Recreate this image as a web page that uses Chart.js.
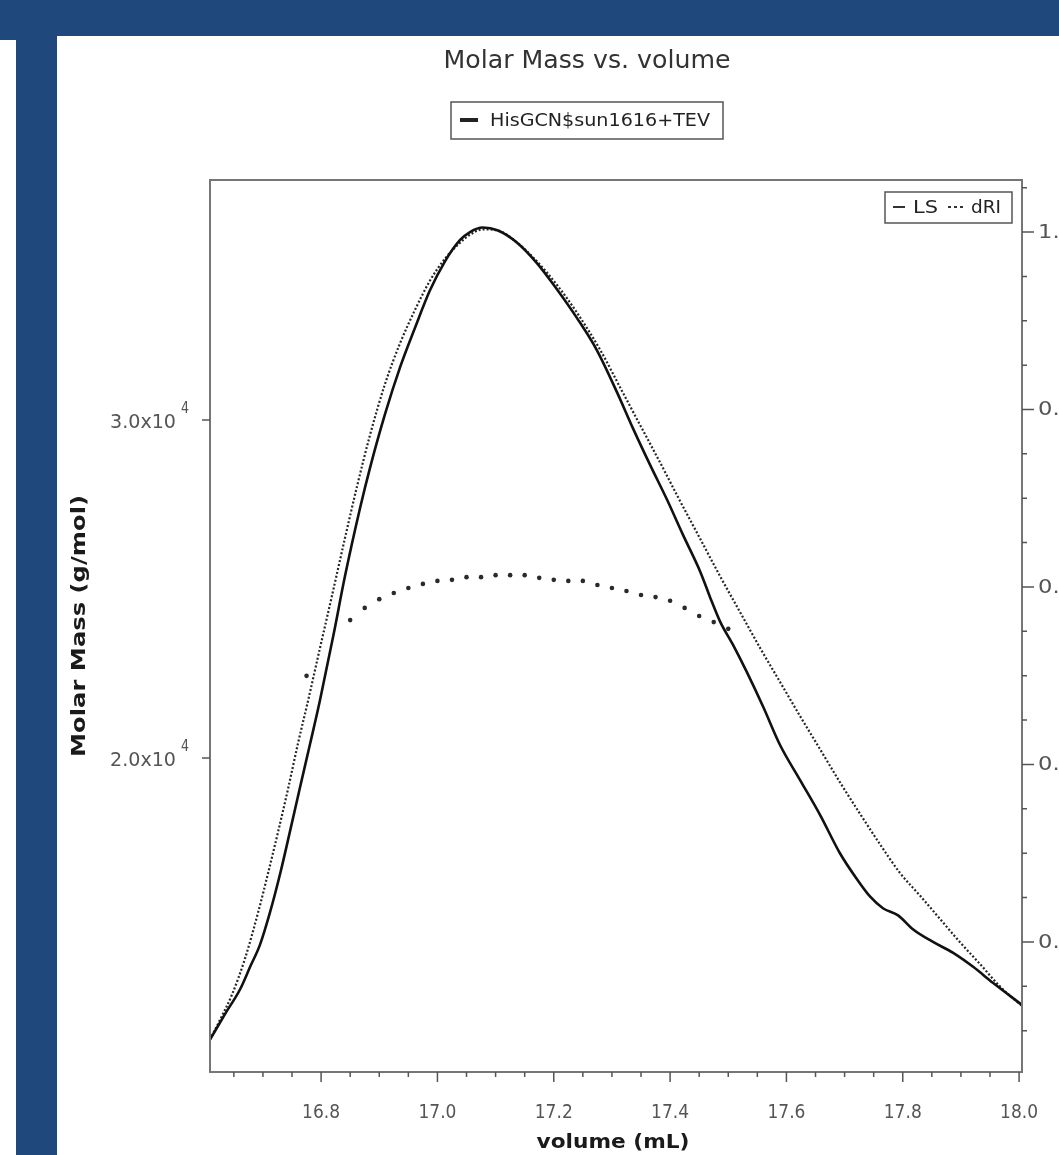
<!DOCTYPE html>
<html>
<head>
<meta charset="utf-8">
<title>Molar Mass vs. volume</title>
<script src="https://cdn.jsdelivr.net/npm/chart.js@4.4.1/dist/chart.umd.min.js"></script>
<style>
  html, body { margin: 0; padding: 0; width: 1059px; height: 1155px; overflow: hidden; background: #fff; }
  .band { position: absolute; background: #1F497D; }
  #chart { position: absolute; left: 57px; top: 36px; }
</style>
</head>
<body>
<div class="band" style="left:0;top:0;width:1059px;height:36px"></div>
<div class="band" style="left:0;top:0;width:16px;height:40px"></div>
<div class="band" style="left:16px;top:0;width:41px;height:1155px"></div>
<canvas id="chart" width="1063" height="1119"></canvas>
<script>
// LS 信号 (右轴, 归一化)
const lsVolume = [16.609, 16.635, 16.661, 16.678, 16.695, 16.712, 16.730, 16.747, 16.764, 16.781,
  16.798, 16.821, 16.841, 16.867, 16.884, 16.910, 16.936, 16.962, 16.987, 17.013,
  17.039, 17.056, 17.078, 17.103, 17.137, 17.171, 17.206, 17.240, 17.274, 17.309,
  17.336, 17.366, 17.395, 17.422, 17.452, 17.469, 17.486, 17.508, 17.532, 17.560,
  17.589, 17.623, 17.658, 17.692, 17.721, 17.744, 17.766, 17.792, 17.818, 17.852,
  17.886, 17.921, 17.955, 18.005];
const lsSignal = [0.090, 0.119, 0.147, 0.172, 0.197, 0.233, 0.278, 0.326, 0.375, 0.423,
  0.472, 0.545, 0.612, 0.689, 0.734, 0.795, 0.848, 0.893, 0.934, 0.967,
  0.991, 1.000, 1.005, 1.002, 0.988, 0.965, 0.935, 0.903, 0.867, 0.819,
  0.779, 0.737, 0.698, 0.659, 0.617, 0.588, 0.561, 0.535, 0.504, 0.465,
  0.422, 0.383, 0.343, 0.300, 0.271, 0.251, 0.238, 0.230, 0.214, 0.200,
  0.188, 0.172, 0.154, 0.129];

// dRI 信号 (右轴)
const riVolume = [16.609, 16.626, 16.647, 16.669, 16.692, 16.709, 16.726, 16.743, 16.760, 16.778,
  16.798, 16.819, 16.841, 16.862, 16.884, 16.910, 16.936, 16.962, 16.987, 17.013,
  17.039, 17.056, 17.078, 17.103, 17.137, 17.171, 17.206, 17.240, 17.280, 17.314,
  17.348, 17.383, 17.417, 17.452, 17.486, 17.520, 17.555, 17.589, 17.623, 17.658,
  17.692, 17.727, 17.761, 17.795, 17.830, 17.864, 17.898, 17.933, 17.967, 18.005];
const riSignal = [0.090, 0.112, 0.141, 0.181, 0.234, 0.278, 0.324, 0.372, 0.423, 0.473,
  0.531, 0.591, 0.655, 0.714, 0.771, 0.829, 0.875, 0.913, 0.945, 0.970,
  0.988, 0.997, 1.003, 1.002, 0.988, 0.967, 0.940, 0.909, 0.867, 0.825,
  0.783, 0.740, 0.697, 0.654, 0.612, 0.572, 0.531, 0.493, 0.455, 0.417,
  0.380, 0.344, 0.310, 0.278, 0.252, 0.226, 0.200, 0.175, 0.150, 0.128];

// 摩尔质量 (左轴, g/mol)
const mmVolume = [16.775, 16.850, 16.875, 16.900, 16.925, 16.950, 16.975, 17.000, 17.025, 17.050,
  17.075, 17.100, 17.125, 17.150, 17.175, 17.200, 17.225, 17.250, 17.275, 17.300,
  17.325, 17.350, 17.375, 17.400, 17.425, 17.450, 17.475, 17.500];
const mmValue = [22430, 24080, 24440, 24700, 24880, 25030, 25150, 25240, 25270, 25350,
  25350, 25410, 25410, 25410, 25330, 25270, 25240, 25240, 25120, 25030,
  24940, 24820, 24760, 24650, 24440, 24200, 24020, 23820];

// 刻度
const volumeTicks = [16.8, 17.0, 17.2, 17.4, 17.6, 17.8, 18.0];
const massTicks = [20000, 30000];
const massTickLabels = ['2.0x10', '3.0x10'];
const detTicks = [0.2, 0.4, 0.6, 0.8, 1.0];

const xy = (xs, ys) => xs.map((v, i) => ({ x: v, y: ys[i] }));

// 文本按宽度水平缩放
function fitText(ctx, text, x, y, width, font, align) {
  ctx.font = font;
  const w = ctx.measureText(text).width;
  ctx.save();
  ctx.translate(x, y);
  ctx.scale(width / w, 1);
  ctx.textAlign = align || 'center';
  ctx.textBaseline = 'middle';
  ctx.fillText(text, 0, 0);
  ctx.restore();
}

const decor = {
  id: 'decor',
  afterDatasetsDraw(chart) {
    const ctx = chart.ctx, a = chart.chartArea;
    const sx = chart.scales.x, sm = chart.scales.yMass, sd = chart.scales.yDet;
    ctx.save();

    // 边框
    ctx.strokeStyle = '#767676';
    ctx.lineWidth = 2;
    ctx.strokeRect(a.left, a.top, a.right - a.left, a.bottom - a.top);

    // 刻度线
    ctx.strokeStyle = '#555';
    ctx.lineWidth = 1.5;
    ctx.beginPath();
    for (let v = 16.65; v <= 18.001; v += 0.05) {
      const p = sx.getPixelForValue(v);
      ctx.moveTo(p, a.bottom); ctx.lineTo(p, a.bottom + 5);
    }
    volumeTicks.forEach(v => {
      const p = sx.getPixelForValue(v);
      ctx.moveTo(p, a.bottom); ctx.lineTo(p, a.bottom + 10);
    });
    for (let v = 0.1; v <= 1.051; v += 0.05) {
      const p = sd.getPixelForValue(v);
      ctx.moveTo(a.right, p); ctx.lineTo(a.right + 5, p);
    }
    detTicks.forEach(v => {
      const p = sd.getPixelForValue(v);
      ctx.moveTo(a.right, p); ctx.lineTo(a.right + 12, p);
    });
    massTicks.forEach(v => {
      const p = sm.getPixelForValue(v);
      ctx.moveTo(a.left, p); ctx.lineTo(a.left - 8, p);
    });
    ctx.stroke();

    // 刻度标签
    ctx.fillStyle = '#555';
    volumeTicks.forEach(v => {
      fitText(ctx, v.toFixed(1), sx.getPixelForValue(v), a.bottom + 41, 38, '19px "DejaVu Sans"');
    });
    detTicks.forEach(v => {
      fitText(ctx, v.toFixed(1), a.right + 16, sd.getPixelForValue(v) + 1, 36, '19px "DejaVu Sans"', 'left');
    });
    massTicks.forEach((v, i) => {
      const p = sm.getPixelForValue(v);
      fitText(ctx, massTickLabels[i], a.left - 34, p + 3, 66, '19px "DejaVu Sans"', 'right');
      fitText(ctx, '4', a.left - 29, p - 11, 8, '16px "DejaVu Sans"', 'left');
    });

    // 轴标题
    ctx.fillStyle = '#1a1a1a';
    fitText(ctx, 'volume (mL)', 556, a.bottom + 71, 153, 'bold 20px "DejaVu Sans"');
    ctx.save();
    ctx.translate(23, 590);
    ctx.rotate(-Math.PI / 2);
    fitText(ctx, 'Molar Mass (g/mol)', 0, 0, 262, 'bold 19px "DejaVu Sans"');
    ctx.restore();

    // 标题
    ctx.fillStyle = '#333';
    fitText(ctx, 'Molar Mass vs. volume', 530, 25, 287, '25px "DejaVu Sans"');

    // 图例 1
    ctx.strokeStyle = '#555';
    ctx.lineWidth = 1.5;
    ctx.strokeRect(394, 66, 272, 37);
    ctx.strokeStyle = '#222';
    ctx.lineWidth = 4;
    ctx.beginPath(); ctx.moveTo(403, 84); ctx.lineTo(421, 84); ctx.stroke();
    ctx.fillStyle = '#222';
    fitText(ctx, 'HisGCN$sun1616+TEV', 433, 85, 220, '18px "DejaVu Sans"', 'left');

    // 图例 2
    ctx.strokeStyle = '#555';
    ctx.lineWidth = 1.5;
    ctx.strokeRect(828, 156, 127, 31);
    ctx.strokeStyle = '#333';
    ctx.lineWidth = 2;
    ctx.beginPath(); ctx.moveTo(836, 171); ctx.lineTo(848, 171); ctx.stroke();
    ctx.setLineDash([3, 3]);
    ctx.beginPath(); ctx.moveTo(891, 171); ctx.lineTo(908, 171); ctx.stroke();
    ctx.setLineDash([]);
    fitText(ctx, 'LS', 856, 172, 25, '18px "DejaVu Sans"', 'left');
    fitText(ctx, 'dRI', 914, 172, 30, '18px "DejaVu Sans"', 'left');

    ctx.restore();
  }
};

new Chart(document.getElementById('chart'), {
  type: 'scatter',
  data: {
    datasets: [
      {
        label: 'LS',
        data: xy(lsVolume, lsSignal),
        yAxisID: 'yDet',
        showLine: true,
        borderColor: '#111',
        borderWidth: 2.6,
        pointRadius: 0,
        cubicInterpolationMode: 'monotone'
      },
      {
        label: 'dRI',
        data: xy(riVolume, riSignal),
        yAxisID: 'yDet',
        showLine: true,
        borderColor: '#262626',
        borderWidth: 2.2,
        borderDash: [2, 2],
        pointRadius: 0,
        cubicInterpolationMode: 'monotone'
      },
      {
        label: 'HisGCN$sun1616+TEV',
        data: xy(mmVolume, mmValue),
        yAxisID: 'yMass',
        showLine: false,
        pointRadius: 2.3,
        pointBorderWidth: 0,
        pointBackgroundColor: '#2a2a2a'
      }
    ]
  },
  options: {
    responsive: false,
    animation: false,
    events: [],
    layout: { padding: { top: 144, left: 0, right: 0, bottom: 0 } },
    plugins: { legend: { display: false }, title: { display: false }, tooltip: { enabled: false } },
    scales: {
      x: {
        type: 'linear', min: 16.609, max: 18.005,
        grid: { display: false }, border: { display: false }, ticks: { display: false },
        afterFit(s) { s.height = 83; }
      },
      yMass: {
        type: 'linear', position: 'left', min: 10710, max: 37100,
        grid: { display: false }, border: { display: false }, ticks: { display: false },
        afterFit(s) { s.width = 153; }
      },
      yDet: {
        type: 'linear', position: 'right', min: 0.0535, max: 1.0586,
        grid: { display: false }, border: { display: false }, ticks: { display: false },
        afterFit(s) { s.width = 98; }
      }
    }
  },
  plugins: [decor]
});
</script>
</body>
</html>
